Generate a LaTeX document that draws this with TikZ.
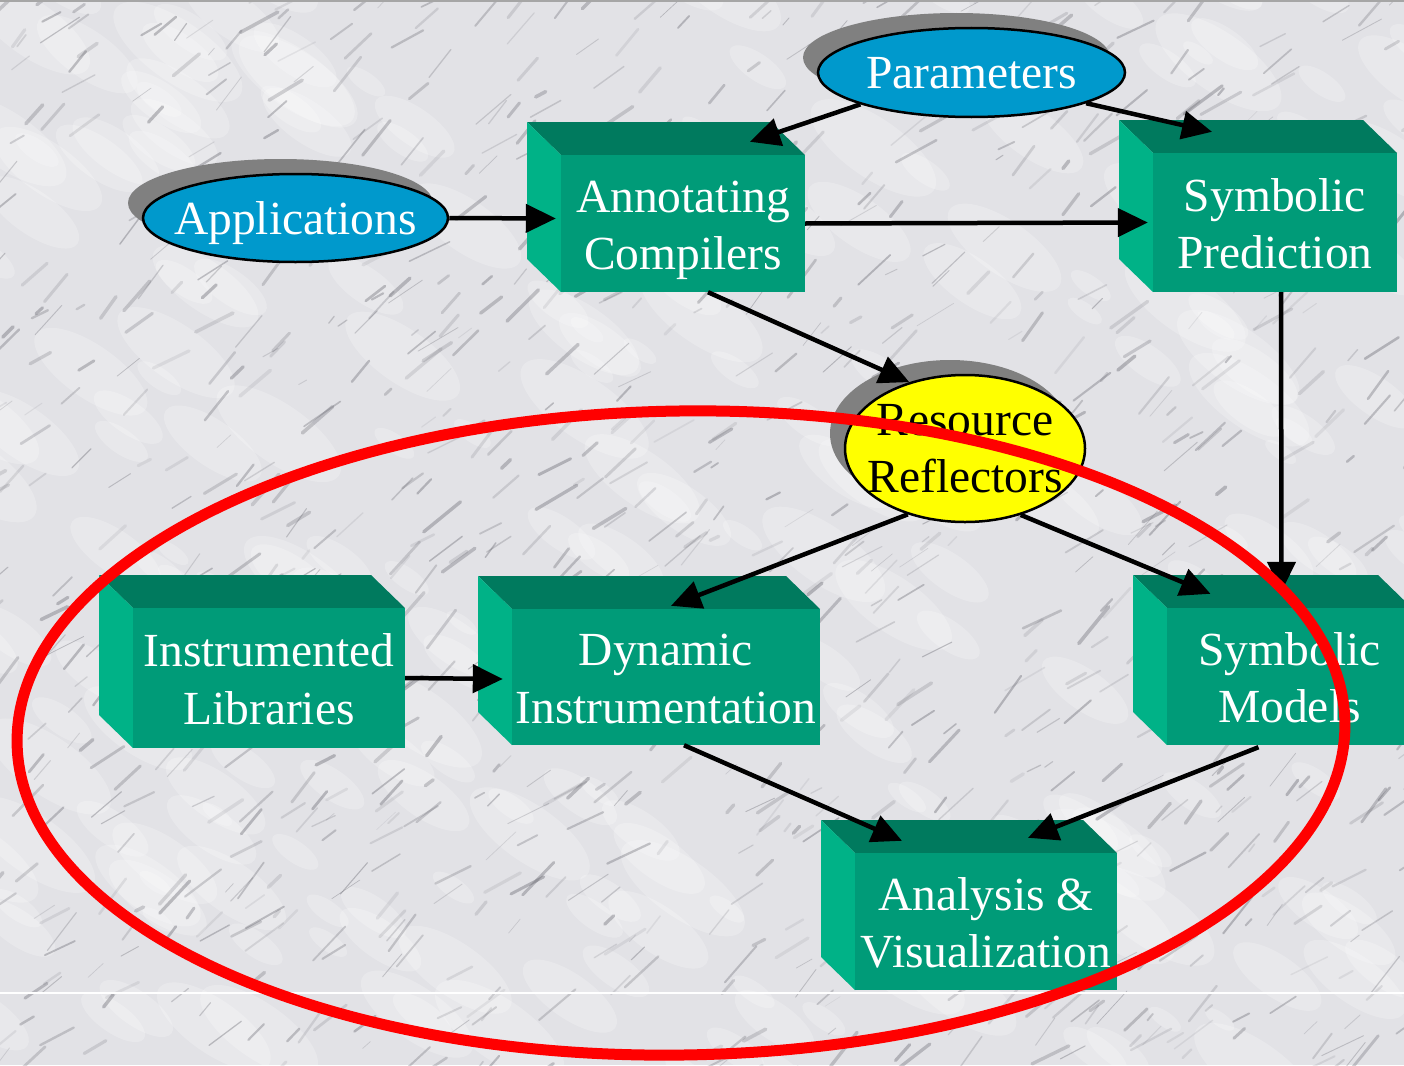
\documentclass[tikz,border=0pt]{standalone}
\usepackage{fontspec}
\setmainfont{Liberation Serif}
\usetikzlibrary{arrows.meta,calc,shapes.geometric,shadows}

\definecolor{boxfront}{RGB}{0,155,120}
\definecolor{boxtop}{RGB}{0,122,94}
\definecolor{boxside}{RGB}{0,178,135}
\definecolor{ovalblue}{RGB}{0,153,204}
\definecolor{ovalyellow}{RGB}{255,255,0}
\definecolor{ovalshadow}{RGB}{128,128,128}
\definecolor{marble}{RGB}{226,226,230}
\definecolor{vein}{RGB}{95,95,104}
\definecolor{ringred}{RGB}{255,0,0}

\tikzset{
  bigfont/.style={font=\fontsize{47.5}{57.5}\selectfont},
  face/.style={rectangle, fill=boxfront, inner sep=0pt, text=white, align=center, bigfont,
    text height=92pt, text depth=0pt},
  oval/.style={ellipse, draw=black, line width=2.5pt, inner sep=0pt, align=center, bigfont,
    drop shadow={shadow xshift=-15pt, shadow yshift=15pt, fill=ovalshadow, opacity=1}},
  link/.style={line width=4.5pt, -{Triangle[length=30pt,width=28pt]}},
  ring/.style={draw=ringred, line width=11pt}
}

% centred text line that does not widen its node
\newcommand\ovalline[1]{\makebox[0pt][c]{#1}}

% 3D box: front face corners (#2,#3)-(#4,#5), depth 34 x 33
\newcommand\solidbox[6]{%
  \fill[boxtop] (#2-34,#3-33) -- (#4-34,#3-33) -- (#4,#3) -- (#2,#3) -- cycle;
  \fill[boxside] (#2-34,#3-33) -- (#2,#3) -- (#2,#5) -- (#2-34,#5-33) -- cycle;
  \node[face, minimum width={#4-#2}, minimum height={#5-#3}] (#1)
    at ({(#2+#4)/2},{(#3+#5)/2}) {#6};
}

\begin{document}
\begin{tikzpicture}[x=1pt,y=-1pt]
\useasboundingbox (0,0) rectangle (1404,1065);
\clip (0,0) rectangle (1404,1065);

% marble background
\fill[marble] (0,0) rectangle (1404,1065);
\pgfmathsetseed{4}
\foreach \i in {1,...,260}{
  \pgfmathsetmacro\bx{rnd*1460-30}
  \pgfmathsetmacro\by{rnd*1120-30}
  \pgfmathsetmacro\br{8+rnd*30}
  \fill[white, opacity=0.22, rotate around={-35:(\bx,\by)}] (\bx,\by) ellipse [x radius=\br*2, y radius=\br*0.8];
}
\foreach \i in {1,...,1100}{
  \pgfmathsetmacro\vx{rnd*1460-30}
  \pgfmathsetmacro\vy{rnd*1120-30}
  \pgfmathsetmacro\vl{8+rnd*40}
  \pgfmathsetmacro\va{-(25+rnd*30)}
  \pgfmathsetmacro\vw{0.6+rnd*3}
  \pgfmathsetmacro\vo{0.1+rnd*0.28}
  \draw[vein, line width=\vw pt, draw opacity=\vo, line cap=round] (\vx,\vy) -- ++(\va:\vl);
}
\draw[gray!70, line width=2pt] (0,1.5) -- (1404,1.5);
\draw[white, line width=2.5pt] (0,993) -- (1404,993);

% boxes
\solidbox{ann}{561}{155}{805}{292}{Annotating\\Compilers}
\solidbox{sp}{1153}{153}{1397}{292}{Symbolic\\Prediction}
\solidbox{il}{133}{608}{405}{748}{Instrumented\\Libraries}
\solidbox{di}{512}{609}{820}{745}{Dynamic\\Instrumentation}
\solidbox{sm}{1167}{608}{1412}{745}{Symbolic\\Models}
\solidbox{av}{855}{853}{1117}{990}{Analysis \&\\Visualization}

% ovals
\node[oval, fill=ovalblue, text=white, text depth=0pt, minimum width=307pt, minimum height=89pt]
  (param) at (971.5,72.5) {\ovalline{Parameters}};
\node[oval, fill=ovalblue, text=white, text depth=0pt, minimum width=305pt, minimum height=88pt]
  (app) at (295.5,218) {\ovalline{Applications}};
\node[oval, fill=ovalyellow, text=black, minimum width=240pt, minimum height=147pt]
  (res) at (965,448.5) {\ovalline{Resource}\\\ovalline{Reflectors}};

% connectors
\draw[link] (param.196) -- ($(ann.north)+(67,-13)$);
\draw[link] (param.-15) -- ($(sp.north)+(-63,-21)$);
\draw[link] (app.east) -- ($(ann.west)+(-5,-5)$);
\draw[link] (ann.east) -- ($(sp.west)+(-5,0)$);
\draw[link] ($(ann.south)+(25,0)$) -- (res.130);
\draw[link] ($(sp.south)+(6,0)$) -- ($(sm.north)+(-8,-16)$);
\draw[link] (res.229) -- ($(di.north)+(5,-3)$);
\draw[link] (res.-50) -- ($(sm.north)+(-79,-14)$);
\draw[link] (il.east) -- ($(di.west)+(-9,2)$);
\draw[link] ($(di.south)+(18,0)$) -- ($(av.north)+(-84,-12)$);
\draw[link] ($(sm.south)+(-31,2)$) -- ($(av.north)+(42,-15)$);

% highlight ring
\draw[ring, rotate around={0.9:(681,733)}] (681,733) ellipse [x radius=664, y radius=322];
\end{tikzpicture}
\end{document}
